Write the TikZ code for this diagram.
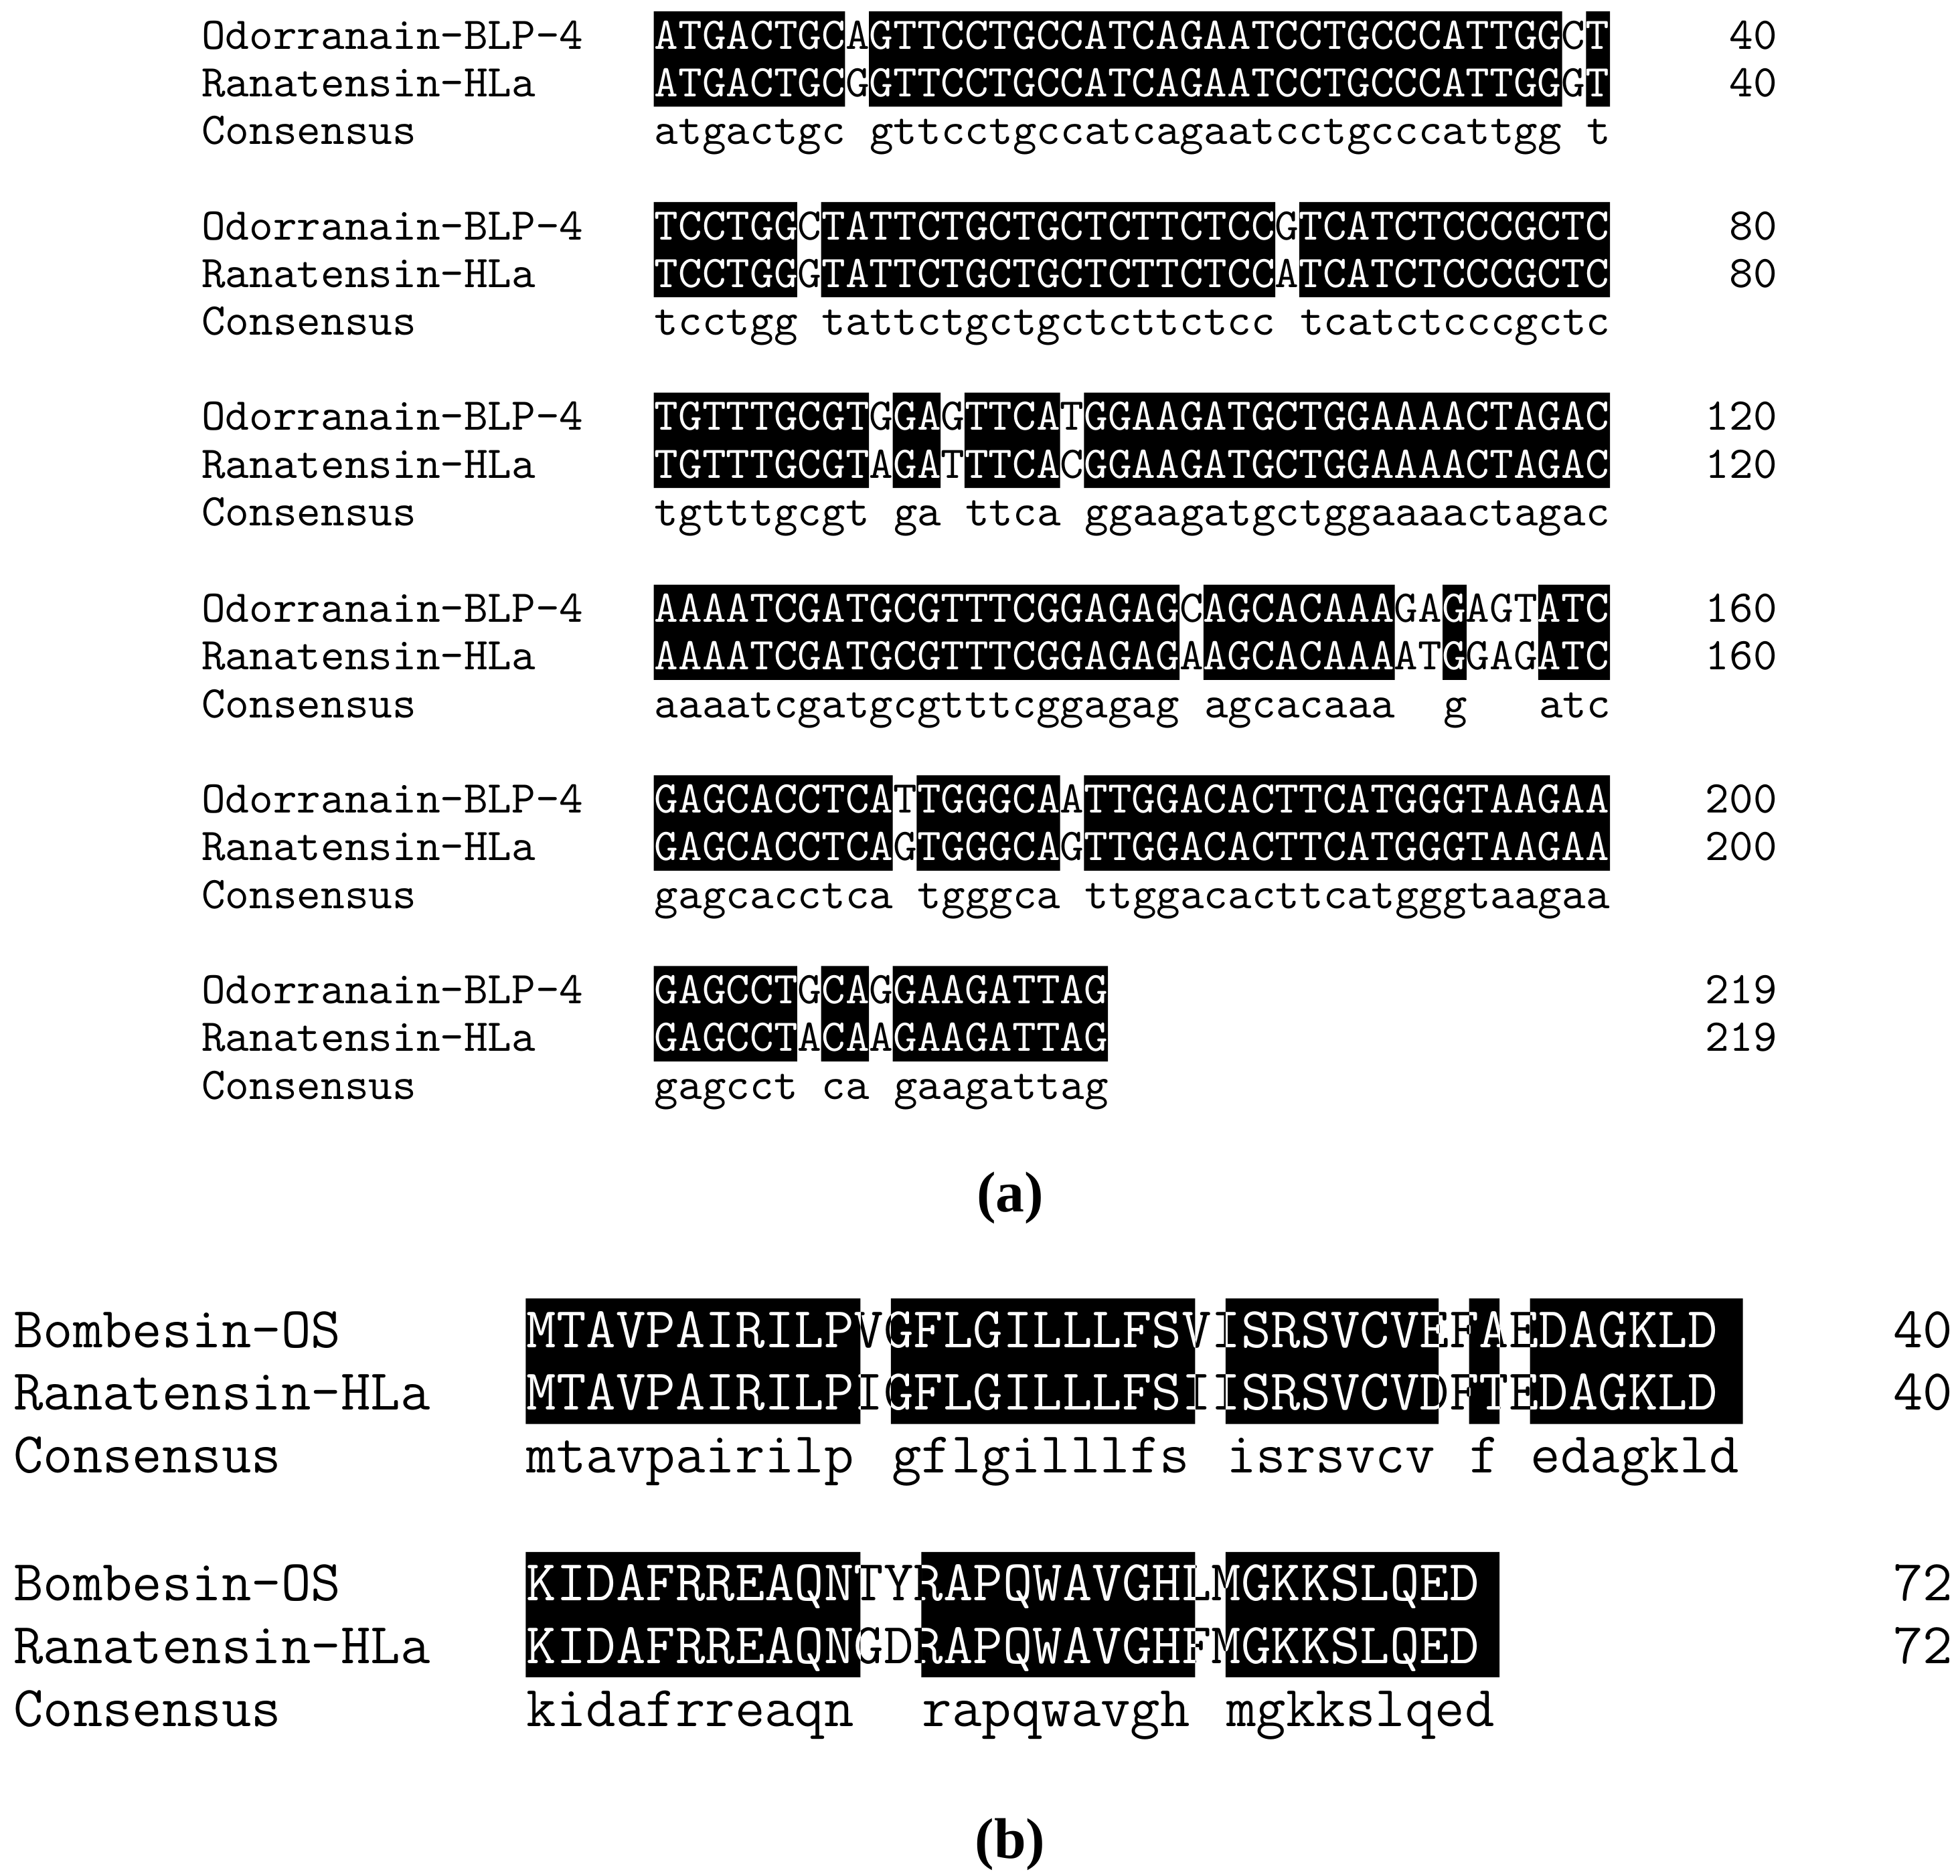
\documentclass[tikz,border=0pt]{standalone}
\usepackage{fontspec}
\newcommand\mono{\ttfamily}
\setmainfont{Liberation Serif}
\def\X{521}\def\CW{19.05}\def\RS{38}\def\HB{19}\def\LX{160}\def\NX{1417}\def\FS{10.3pt}\def\BO{11}
\tikzset{seq/.style={anchor=base west,inner sep=0,font=\mono\fontsize{\FS}{\FS}\selectfont},
 seqw/.style={seq,text=white},
 num/.style={anchor=base east,inner sep=0,font=\mono\fontsize{\FS}{\FS}\selectfont},
 captxt/.style={inner sep=0,font=\bfseries\fontsize{13pt}{13pt}\selectfont}}
\newcommand\aln[7]{%
 \fill foreach \s/\e/\t in {#2}{ ({\X+(\s-1)*\CW},{#1-\HB}) rectangle ({\X+\e*\CW},{#1+\RS+\HB}) };
 \node[seq] (A#1) at (\X,{#1+\BO}) {#3};
 \node[seq] (B#1) at (\X,{#1+\RS+\BO}) {#4};
 \begin{scope}
 \clip foreach \s/\e/\t in {#2}{ ({\X+(\s-1)*\CW},{#1-\HB}) rectangle ({\X+\e*\CW},{#1+\RS+\HB}) };
 \node[seqw] at (\X,{#1+\BO}) {#3};
 \node[seqw] at (\X,{#1+\RS+\BO}) {#4};
 \end{scope}
 \foreach \s/\e/\t in {#2}{ \node[seq] at ({\X+(\s-1)*\CW},{#1+2*\RS+\BO}) {\t}; }
 \node[seq] (LA#1) at (\LX,{#1+\BO}) {#5};
 \node[seq] (LB#1) at (\LX,{#1+\RS+\BO}) {#6};
 \node[seq] (LC#1) at (\LX,{#1+2*\RS+\BO}) {Consensus};
 \node[num] (NA#1) at (\NX,{#1+\BO}) {#7};
 \node[num] (NB#1) at (\NX,{#1+\RS+\BO}) {#7};
}
\begin{document}
\begin{tikzpicture}[x=0.01cm,y=-0.01cm]
\path[use as bounding box] (0,0) rectangle (1562,1495);
\aln{28}{1/8/atgactgc,10/38/gttcctgccatcagaatcctgcccattgg,40/40/t}{ATGACTGCAGTTCCTGCCATCAGAATCCTGCCCATTGGCT}{ATGACTGCGGTTCCTGCCATCAGAATCCTGCCCATTGGGT}{Odorranain-BLP-4}{Ranatensin-HLa}{40}
\aln{180}{1/6/tcctgg,8/26/tattctgctgctcttctcc,28/40/tcatctcccgctc}{TCCTGGCTATTCTGCTGCTCTTCTCCGTCATCTCCCGCTC}{TCCTGGGTATTCTGCTGCTCTTCTCCATCATCTCCCGCTC}{Odorranain-BLP-4}{Ranatensin-HLa}{80}
\aln{332}{1/9/tgtttgcgt,11/12/ga,14/17/ttca,19/40/ggaagatgctggaaaactagac}{TGTTTGCGTGGAGTTCATGGAAGATGCTGGAAAACTAGAC}{TGTTTGCGTAGATTTCACGGAAGATGCTGGAAAACTAGAC}{Odorranain-BLP-4}{Ranatensin-HLa}{120}
\aln{485}{1/22/aaaatcgatgcgtttcggagag,24/31/agcacaaa,34/34/g,38/40/atc}{AAAATCGATGCGTTTCGGAGAGCAGCACAAAGAGAGTATC}{AAAATCGATGCGTTTCGGAGAGAAGCACAAAATGGAGATC}{Odorranain-BLP-4}{Ranatensin-HLa}{160}
\aln{637}{1/10/gagcacctca,12/17/tgggca,19/40/ttggacacttcatgggtaagaa}{GAGCACCTCATTGGGCAATTGGACACTTCATGGGTAAGAA}{GAGCACCTCAGTGGGCAGTTGGACACTTCATGGGTAAGAA}{Odorranain-BLP-4}{Ranatensin-HLa}{200}
\aln{789}{1/6/gagcct,8/9/ca,11/19/gaagattag}{GAGCCTGCAGGAAGATTAG}{GAGCCTACAAGAAGATTAG}{Odorranain-BLP-4}{Ranatensin-HLa}{219}
\node[captxt] (capa) at (805,955) {(a)};
\def\X{419}\def\CW{24.25}\def\RS{50}\def\HB{25}\def\LX{10}\def\NX{1557}\def\FS{13.1pt}\def\BO{14}
\aln{1060}{1/11/mtavpairilp,13/22/gflgilllfs,24/30/isrsvcv,32/32/f,34/40/edagkld}{MTAVPAIRILPVGFLGILLLFSVISRSVCVEFAEDAGKLD}{MTAVPAIRILPIGFLGILLLFSIISRSVCVDFTEDAGKLD}{Bombesin-OS}{Ranatensin-HLa}{40}
\aln{1262}{1/11/kidafrreaqn,14/22/rapqwavgh,24/32/mgkkslqed}{KIDAFRREAQNTYRAPQWAVGHLMGKKSLQED}{KIDAFRREAQNGDRAPQWAVGHFMGKKSLQED}{Bombesin-OS}{Ranatensin-HLa}{72}
\node[captxt] (capb) at (805,1470) {(b)};
\end{tikzpicture}
\end{document}
